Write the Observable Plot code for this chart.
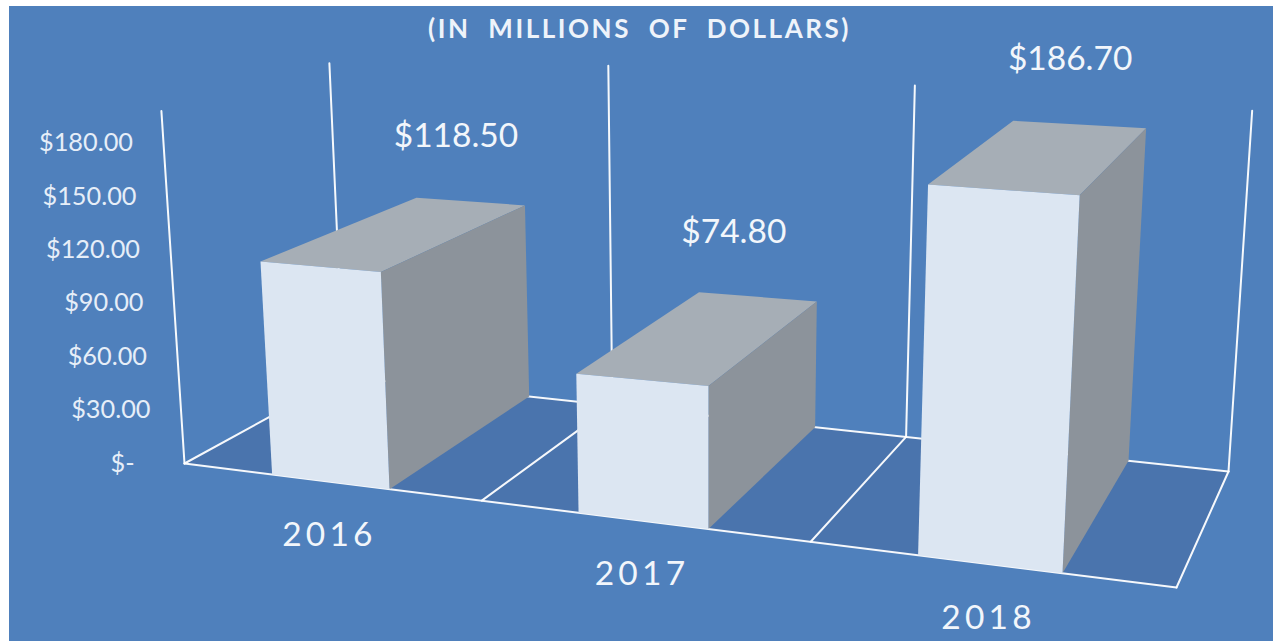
<!DOCTYPE html>
<html>
<head>
<meta charset="utf-8">
<script src="https://cdn.jsdelivr.net/npm/d3@7"></script>
<script src="https://cdn.jsdelivr.net/npm/@observablehq/plot@0.6"></script>
<style>
html,body{margin:0;padding:0;background:#fff;overflow:hidden}
#chart svg{display:block;margin:6px 0 0 9px;background:#4f80bc}
.sp text{white-space:pre}
.ttl text{letter-spacing:2.55px;white-space:pre}
.cat text{letter-spacing:4.2px}
</style>
</head>
<body>
<div id="chart"></div>
<script>
// ---- data
const years = ["2016", "2017", "2018"];
const amounts = [118.5, 74.8, 186.7];
const amountLabels = ["$118.50", "$74.80", "$186.70"];
const axisTicks = [0, 30, 60, 90, 120, 150, 180];
const title = "(IN  MILLIONS  OF  DOLLARS)";

// ---- 3D view: the floor is a perspective square, uprights lean to a far vanishing point
const floorCorners = [[184,463],[1176,587],[1228,471],[343,376]]; // front-left, front-right, back-right, back-left
const vanish = [706, 8430];
const frontScale = d3.scaleLinear()
  .domain([0,.305,.70,1.305,1.70,2.305,2.70,3])
  .range([1.78,1.797,1.832,1.86,1.91,1.986,2.024,2.05]);
const backRatio = 0.88;
const wallTops = {front: 198, back: [200, 209, 205, 200]};
const barSpan = [0.305, 0.70];

const [[x0,y0],[x1,y1],[x2,y2],[x3,y3]] = floorCorners;
const dx1=x1-x2, dx2=x3-x2, sx=x0-x1+x2-x3, dy1=y1-y2, dy2=y3-y2, sy=y0-y1+y2-y3;
const den=dx1*dy2-dx2*dy1;
const g=(sx*dy2-dx2*sy)/den, h=(dx1*sy-sx*dy1)/den;
const a=x1-x0+g*x1, b=x3-x0+h*x3, d=y1-y0+g*y1, e=y3-y0+h*y3;
function proj(u, v, w = 0) {
  const s=u/3, t=v, q=g*s+h*t+1;
  const bx=(a*s+b*t+x0)/q, by=(d*s+e*t+y0)/q;
  const rise=w*frontScale(u)*(1-(1-backRatio)*v);
  return {x: bx+(bx-vanish[0])*rise/(vanish[1]-by), y: by-rise};
}

const poly = (pts, fill) => Plot.line(pts, {x:"x", y:"y", fill, stroke:"none", curve:"linear-closed"});
const seg = (p, q) => Plot.line([p, q], {x:"x", y:"y", stroke:"#fff", strokeWidth:2, strokeOpacity:0.95});

const FRONT="#dce6f2", TOP="#a6aeb6", SIDE="#8c939b", FLOOR="#4a74ad";
const font="Lato";

const marks = [];
marks.push(poly([proj(0,0),proj(3,0),proj(3,1),proj(0,1)], FLOOR));
marks.push(seg(proj(0,0),proj(3,0)), seg(proj(3,0),proj(3,1)), seg(proj(3,1),proj(0,1)), seg(proj(0,1),proj(0,0)));
marks.push(seg(proj(1,0),proj(1,1)), seg(proj(2,0),proj(2,1)));
marks.push(seg(proj(0,0),proj(0,0,wallTops.front)));
wallTops.back.forEach((t,i)=>marks.push(seg(proj(i,1),proj(i,1,t))));

amounts.forEach((w,i)=>{
  const l=i+barSpan[0], r=i+barSpan[1];
  marks.push(poly([proj(l,0,w),proj(l,1,w),proj(r,1,w),proj(r,0,w)], TOP));
  marks.push(poly([proj(r,0,0),proj(r,0,w),proj(r,1,w),proj(r,1,0)], SIDE));
  marks.push(poly([proj(l,0,0),proj(r,0,0),proj(r,0,w),proj(l,0,w)], FRONT));
});

// axis labels
marks.push(Plot.text(axisTicks, {
  x:t=>proj(0,0,t).x-30.5, y:t=>proj(0,0,t).y,
  text:t=>t===0?"$-\u00a0\u00a0\u00a0":"$"+t.toFixed(2),
  textAnchor:"end", fontFamily:font, fontSize:25.3, fill:"#e6eef8", className:"sp"
}));
// category labels
marks.push(Plot.text(years, {
  x:(_,i)=>proj(i+.5,0).x, y:(_,i)=>proj(i+.5,0).y+54,
  text:d=>d, fontFamily:font, fontSize:33.5, fill:"#f2f6fb", className:"cat"
}));
// value labels, placed relative to the back corner of each bar
marks.push(Plot.text(amountLabels, {
  x:(_,i)=>proj(i+barSpan[1],1,amounts[i]).x-[69,83,76][i],
  y:(_,i)=>proj(i+barSpan[1],1,amounts[i]).y-69,
  text:d=>d, fontFamily:font, fontSize:33.5, fill:"#f2f6fb"
}));
marks.push(Plot.text([title], {
  x:()=>639, y:()=>29, text:d=>d, fontFamily:font, fontWeight:"bold", fontSize:26, fill:"#eef3fa", className:"ttl"
}));

const svg = Plot.plot({
  width:1264, height:635,
  margin:0,
  x:{domain:[9,1273], range:[0,1264], axis:null},
  y:{domain:[6,641], range:[0,635], axis:null},
  style:{background:"#4f80bc"},
  marks
});
document.getElementById("chart").appendChild(svg);
</script>
</body>
</html>
